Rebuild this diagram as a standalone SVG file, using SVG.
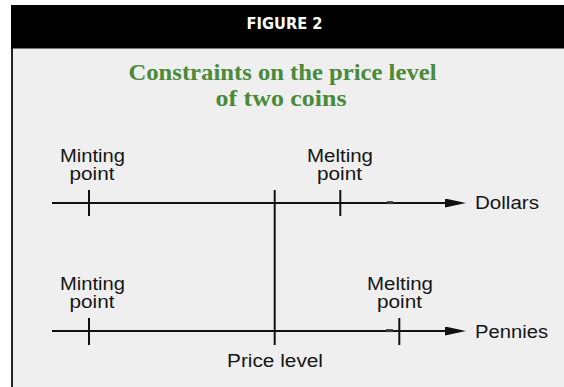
<svg xmlns="http://www.w3.org/2000/svg" width="564" height="387" viewBox="0 0 564 387">
  <style>
    .lbl { font-family: "Liberation Sans", Arial, Helvetica, sans-serif; font-size: 17.5px; fill: #151515; }
    .mid { text-anchor: middle; }
    .axis { stroke: #111; stroke-width: 2.2; fill: none; }
    .tick { stroke: #111; stroke-width: 2; fill: none; }
    .nub { stroke: #3a3a3a; stroke-width: 3; }
    .title { font-family: "Liberation Serif", "Times New Roman", serif; font-weight: bold; font-size: 23.5px; fill: #4a8a3a; text-anchor: middle; }
    .head { font-family: "DejaVu Sans", "Liberation Sans", Arial, sans-serif; font-weight: bold; font-size: 15.5px; fill: #ffffff; text-anchor: middle; }
  </style>
  <defs>
    <marker id="arrow" markerUnits="userSpaceOnUse" markerWidth="22" markerHeight="10" refX="0" refY="4.5" orient="auto">
      <path d="M0,0 L21,4.5 L0,9 Z" fill="#111"/>
    </marker>
  </defs>

  <!-- page and panel -->
  <rect x="0" y="0" width="564" height="387" fill="#ffffff"/>
  <rect x="11" y="5" width="553" height="382" fill="#efefef"/>
  <rect x="11" y="5" width="2" height="382" fill="#222"/>

  <g id="header">
    <rect x="11" y="5" width="553" height="43.5" fill="#000"/>
    <text class="head" x="284.5" y="29" textLength="76" lengthAdjust="spacingAndGlyphs">FIGURE 2</text>
  </g>

  <g id="title">
    <text class="title" x="282.5" y="80" textLength="308" lengthAdjust="spacingAndGlyphs">Constraints on the price level</text>
    <text class="title" x="281" y="105.5" textLength="131" lengthAdjust="spacingAndGlyphs">of two coins</text>
  </g>

  <!-- axes, ticks and the price-level line -->
  <g id="connectors">
    <line id="dollars-axis" class="axis" x1="52" y1="203" x2="445" y2="203" marker-end="url(#arrow)"/>
    <line class="nub" x1="387" y1="202.6" x2="393" y2="202.6"/>
    <line id="pennies-axis" class="axis" x1="52" y1="331" x2="445" y2="331" marker-end="url(#arrow)"/>
    <line class="nub" x1="386" y1="330.6" x2="393" y2="330.6"/>
    <line id="price-line" class="tick" x1="274.7" y1="190" x2="274.7" y2="345"/>
    <line class="tick" x1="89" y1="190" x2="89" y2="216"/>
    <line class="tick" x1="340.3" y1="190" x2="340.3" y2="216"/>
    <line class="tick" x1="89" y1="318" x2="89" y2="345"/>
    <line class="tick" x1="399.3" y1="318" x2="399.3" y2="345"/>
  </g>

  <g id="dollars-minting">
    <text class="lbl mid" x="92.5" y="161.5" textLength="65" lengthAdjust="spacingAndGlyphs">Minting</text>
    <text class="lbl mid" x="92" y="180" textLength="45" lengthAdjust="spacingAndGlyphs">point</text>
  </g>
  <g id="dollars-melting">
    <text class="lbl mid" x="340" y="161.5" textLength="66" lengthAdjust="spacingAndGlyphs">Melting</text>
    <text class="lbl mid" x="339.5" y="180" textLength="45" lengthAdjust="spacingAndGlyphs">point</text>
  </g>
  <g id="dollars-label">
    <text class="lbl" x="475" y="209" textLength="64" lengthAdjust="spacingAndGlyphs">Dollars</text>
  </g>

  <g id="pennies-minting">
    <text class="lbl mid" x="92.5" y="289.5" textLength="65" lengthAdjust="spacingAndGlyphs">Minting</text>
    <text class="lbl mid" x="92" y="308" textLength="45" lengthAdjust="spacingAndGlyphs">point</text>
  </g>
  <g id="pennies-melting">
    <text class="lbl mid" x="400" y="289.5" textLength="66" lengthAdjust="spacingAndGlyphs">Melting</text>
    <text class="lbl mid" x="399.5" y="308" textLength="45" lengthAdjust="spacingAndGlyphs">point</text>
  </g>
  <g id="pennies-label">
    <text class="lbl" x="475" y="338" textLength="73" lengthAdjust="spacingAndGlyphs">Pennies</text>
  </g>

  <g id="price-level-label">
    <text class="lbl mid" x="275" y="366.5" textLength="96" lengthAdjust="spacingAndGlyphs">Price level</text>
  </g>
</svg>
